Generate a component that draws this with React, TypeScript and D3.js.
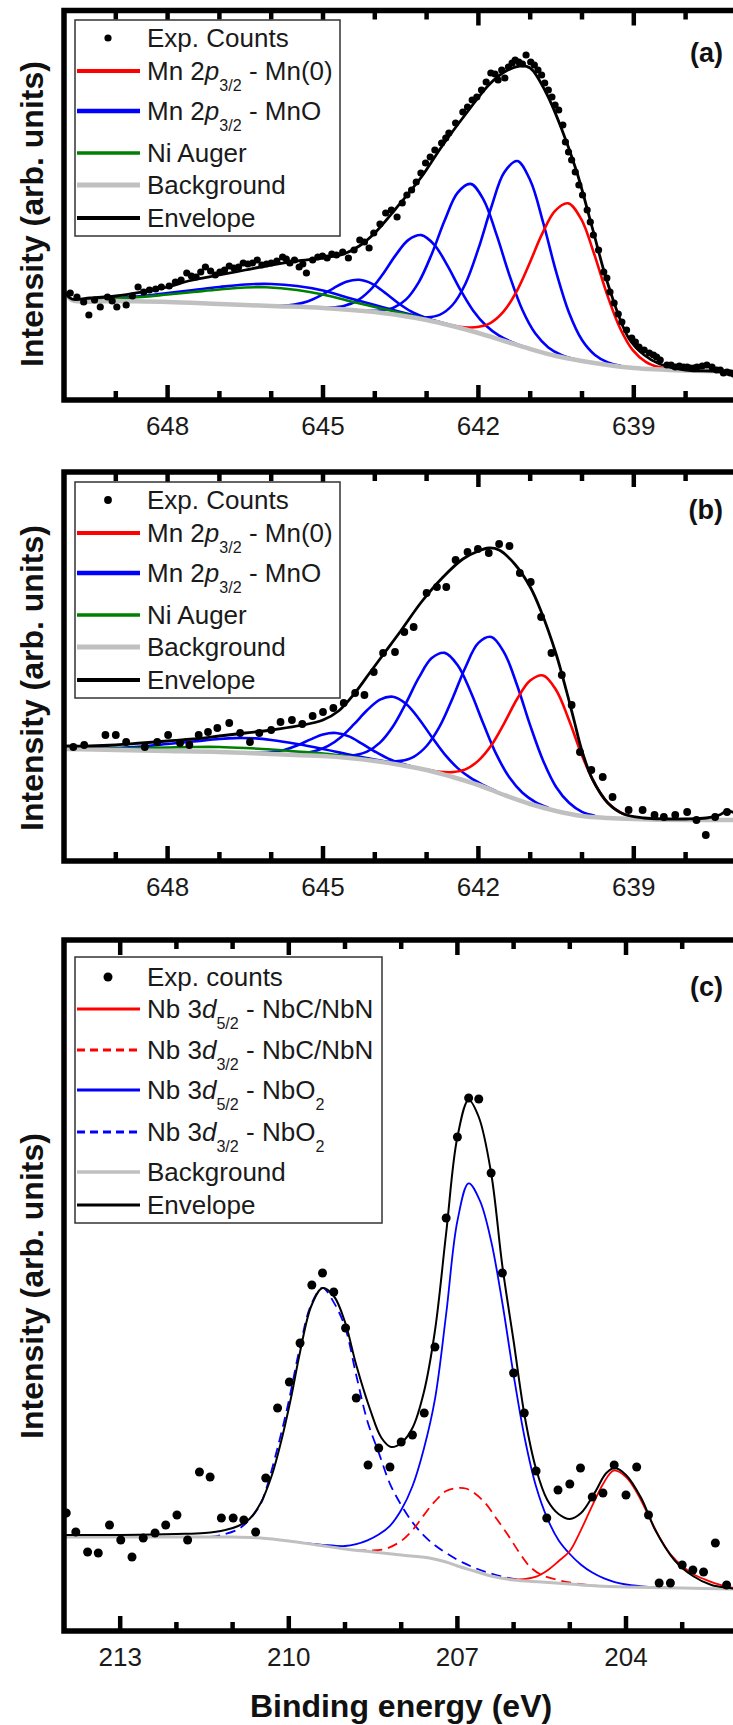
import React, { useRef, useEffect } from 'react';
import * as d3 from 'd3';

type Pt = [number, number];

// ---------- panel (a): Mn 2p3/2 ----------
// [binding energy (eV), intensity (arb. units)]
const countsA: Pt[] = [
  [649.88,107],[649.75,103],[649.62,98],[649.52,85],[649.41,100],[649.30,93],[649.16,103],[649.07,99],[648.98,93],[648.80,95],
  [648.68,104],[648.57,113],[648.46,108],[648.35,110],[648.23,111],[648.12,113],[647.97,114],[647.85,118],[647.74,120],[647.63,127],
  [647.54,124],[647.45,123],[647.36,128],[647.27,133],[647.17,129],[647.08,125],[646.99,128],[646.90,130],[646.81,134],[646.72,132],
  [646.63,133],[646.54,137],[646.45,136],[646.36,137],[646.27,140],[646.18,135],[646.09,136],[646.00,137],[645.89,139],[645.78,143],
  [645.71,141],[645.64,137],[645.55,140],[645.46,133],[645.39,136],[645.32,127],[645.20,140],[645.10,143],[645.01,144],[644.92,142],
  [644.83,146],[644.74,145],[644.62,148],[644.51,142],[644.40,150],[644.29,160],[644.20,158],[644.11,152],[644.02,167],[643.90,176],
  [643.79,187],[643.68,190],[643.57,183],[643.47,197],[643.38,205],[643.29,210],[643.20,218],[643.11,227],[643.02,237],[642.93,243],
  [642.84,250],[642.71,257],[642.63,262],[642.57,267],[642.44,277],[642.30,288],[642.21,293],[642.12,300],[642.03,303],[641.94,310],
  [641.85,318],[641.76,327],[641.68,326],[641.62,320],[641.55,330],[641.49,322],[641.42,333],[641.35,337],[641.29,340],[641.22,338],
  [641.15,336],[641.08,345],[640.99,338],[640.92,335],[640.85,330],[640.78,325],[640.72,317],[640.65,310],[640.58,303],[640.52,295],
  [640.45,290],[640.37,275],[640.32,258],[640.26,248],[640.20,240],[640.13,228],[640.06,215],[639.99,205],[639.90,190],[639.84,178],
  [639.78,165],[639.68,150],[639.58,128],[639.52,122],[639.46,108],[639.38,97],[639.30,86],[639.23,78],[639.14,70],[639.04,62],
  [638.97,58],[638.90,53],[638.80,50],[638.70,47],[638.62,45],[638.56,43],[638.49,40],[638.36,35],[638.28,35],[638.20,33],
  [638.12,34],[638.04,33],[637.97,33],[637.91,32],[637.84,32],[637.78,33],[637.68,34],[637.59,35],[637.49,33],[637.40,30],
  [637.33,30],[637.27,27],[637.20,28],[637.14,27],[637.07,26],
];
const envelopeA: Pt[] = [
  [650.0,109],[649.85,101],[649.5,102],[649.0,104],[648.5,108],[648.0,113],[647.6,119],[647.0,125],[646.5,130],[646.0,135],
  [645.5,139],[645.0,142],[644.6,146],[644.3,154],[644.0,167],[643.6,191],[643.1,223],[642.7,254],[642.2,289],[641.8,315],
  [641.5,328],[641.2,334],[641.0,332],[640.7,308],[640.4,272],[640.1,228],[639.8,172],[639.5,116],[639.1,62],[638.8,45],
  [638.5,36],[638.0,30],[637.5,29],[637.0,28.5],
];
const backgroundA: Pt[] = [
  [650.0,109],[649.85,100],[649.0,99],[648.0,98],[647.0,96],[646.0,94],[645.0,92],[644.0,88],[643.5,84.5],[643.0,80],
  [642.5,74],[642.0,67],[641.5,59],[641.0,51],[640.5,44],[640.0,39],[639.5,35],[639.0,32],[638.0,29.5],[637.0,28.5],
];
// fitted components, as height above the background
const mn0A: Pt[] = [
  [642.52,0.6],[642.27,2.0],[642.02,5.7],[641.77,13.6],[641.52,28.7],[641.27,52.5],[641.02,84.5],[640.77,118.3],[640.52,144.9],
  [640.27,155],[640.02,142.1],[639.77,109.6],[639.52,71],[639.27,38.6],[639.02,17.7],[638.77,6.8],[638.52,2.2],[638.27,0.6],
];
const mnoA: Pt[][] = [
  [[643.25,0.7],[643.0,2.6],[642.75,8.1],[642.5,21],[642.25,45.8],[642.0,84.3],[641.75,130],[641.5,168.7],[641.25,184],
   [641.0,168.7],[640.75,130],[640.5,84.3],[640.25,45.8],[640.0,21],[639.75,8.1],[639.5,2.6],[639.25,0.7]],
  [[644.15,0.6],[643.9,2.1],[643.65,6.5],[643.4,16.8],[643.15,36.6],[642.9,67.3],[642.65,103.9],[642.4,134.8],[642.15,147],
   [641.9,134.8],[641.65,103.9],[641.4,67.3],[641.15,36.6],[640.9,16.8],[640.65,6.5],[640.4,2.1],[640.15,0.6]],
  [[645.1,0.3],[644.85,1.2],[644.6,3.7],[644.35,9.6],[644.1,20.9],[643.85,38.5],[643.6,59.4],[643.35,77],[643.1,84],
   [642.85,77],[642.6,59.4],[642.35,38.5],[642.1,20.9],[641.85,9.6],[641.6,3.7],[641.35,1.2],[641.1,0.3]],
  [[646.05,0.2],[645.8,0.7],[645.55,2.4],[645.3,5.9],[645.05,12.2],[644.8,20.5],[644.55,28],[644.3,31],[644.05,28],
   [643.8,20.5],[643.55,12.2],[643.3,5.9],[643.05,2.4],[642.8,0.7],[642.55,0.2]],
  [[649.85,0.5],[649.5,1.5],[649,3],[648.5,5.5],[648,9],[647.5,13],[647,17],[646.5,20.5],[646,22],[645.5,21],[645,17.5],
   [644.5,12],[644,7],[643.5,3.5],[643,1.5],[642.5,0.5],[642,0]],
];
const niAugerA: Pt[] = [
  [649.85,0.3],[649.5,1],[649,2.5],[648.5,4.5],[648,7.5],[647.5,11],[647,14.5],[646.5,17.5],[646.1,18.5],[645.5,17],
  [645,13.5],[644.5,9],[644,5],[643.5,2.5],[643,1],[642.5,0.3],[642,0],
];

// ---------- panel (b): Mn 2p3/2 ----------
const countsB: Pt[] = [
  [649.82,114],[649.61,116],[649.2,126],[649.0,126],[648.8,119],[648.44,114],[648.2,119],[647.99,126],[647.76,118],[647.58,116],
  [647.4,126],[647.22,129],[647.04,133],[646.81,138],[646.6,128],[646.41,119],[646.23,128],[646.0,131],[645.82,139],[645.6,141],
  [645.4,137],[645.2,145],[645.0,149],[644.8,153],[644.6,158],[644.38,168],[644.2,166],[644.02,189],[643.84,208],[643.61,209],
  [643.43,229],[643.25,234],[643.0,268],[642.8,274],[642.62,274],[642.44,301],[642.21,309],[642.01,312],[641.8,308],[641.6,317],
  [641.4,315],[641.2,288],[640.99,279],[640.79,244],[640.59,208],[640.39,186],[640.2,156],[640.04,109],[639.82,91],[639.6,84],
  [639.41,64],[639.1,51],[638.83,51],[638.6,46],[638.42,44],[638.2,46],[637.97,49],[637.79,41],[637.61,26],[637.43,44],[637.2,49],
];
const envelopeB: Pt[] = [
  [650.0,115],[649.5,115],[649.0,116],[648.5,118],[648.0,120],[647.5,122],[647.0,125],[646.5,128],[646.0,131],[645.5,135],
  [645.0,141],[644.7,150],[644.4,167],[644.1,188],[643.8,209],[643.5,230],[643.1,259],[642.7,283],[642.3,302],[642.0,310],
  [641.8,313],[641.6,311],[641.3,297],[641.0,274],[640.8,251],[640.5,207],[640.3,170],[640.15,140],[640.0,110],[639.8,82],
  [639.5,58],[639.2,47],[638.8,43],[638.4,42],[638.0,42],[637.6,43],[637.35,46],[637.2,50],[637.0,47],
];
const backgroundB: Pt[] = [
  [650.0,112],[649.0,111],[648.0,110],[647.0,109],[646.0,107],[645.0,105],[644.5,103],[644.0,100],[643.5,96],[643.0,91],
  [642.5,84],[642.0,76],[641.5,66],[641.0,57],[640.5,50],[640.0,45],[639.5,43],[639.0,42],[638.0,41],[637.0,41],
];
const mn0B: Pt[] = [
  [643.0,0.5],[642.75,1.7],[642.5,4.9],[642.25,11.6],[642.0,24.4],[641.75,44.7],[641.5,71.9],[641.25,100.7],[641.0,123.4],
  [640.75,132],[640.5,121],[640.25,93.3],[640.0,60.5],[639.75,32.9],[639.5,15],[639.25,5.8],[639.0,1.8],[638.75,0.5],
];
const mnoB: Pt[][] = [
  [[643.75,1.3],[643.5,4.1],[643.25,10.7],[643.0,24],[642.75,46.8],[642.5,78.6],[642.25,113.8],[642.0,142.1],[641.75,153],
   [641.5,142.1],[641.25,113.8],[641.0,78.6],[640.75,46.8],[640.5,24],[640.25,10.7],[640.0,4.1],[639.75,1.3]],
  [[644.65,1.1],[644.4,3.3],[644.15,8.5],[643.9,19.2],[643.65,37.3],[643.4,62.7],[643.15,90.8],[642.9,113.3],[642.65,122],
   [642.4,113.3],[642.15,90.8],[641.9,62.7],[641.65,37.3],[641.4,19.2],[641.15,8.5],[640.9,3.3],[640.65,1.1]],
  [[645.65,0.6],[645.4,1.8],[645.15,4.7],[644.9,10.5],[644.65,20.5],[644.4,34.4],[644.15,49.8],[643.9,62.2],[643.65,67],
   [643.4,62.2],[643.15,49.8],[642.9,34.4],[642.65,20.5],[642.4,10.5],[642.15,4.7],[641.9,1.8],[641.65,0.6]],
  [[646.5,0.1],[646.25,0.6],[646.0,1.8],[645.75,4.6],[645.5,9.5],[645.25,15.9],[645.0,21.6],[644.75,24],[644.5,21.6],
   [644.25,15.9],[644.0,9.5],[643.75,4.6],[643.5,1.8],[643.25,0.6],[643.0,0.1]],
  [[649.85,0.3],[649.5,0.8],[649,2],[648.5,4],[648,7],[647.5,10],[647,13],[646.7,14.5],[646.3,15],[646,14],[645.5,11],
   [645,7],[644.5,3.5],[644,1.5],[643.5,0.5],[643,0]],
];
const niAugerB: Pt[] = [
  [649.85,0.2],[649.5,0.5],[649,1.5],[648.5,2.5],[648,3.5],[647.5,4.5],[647,5],[646.5,5],[646,4.5],[645.5,3.5],
  [645,2.5],[644.5,1.5],[644,0.8],[643.5,0.3],[643,0],
];

// ---------- panel (c): Nb 3d ----------
const countsC: Pt[] = [
  [213.96,118],[213.79,99],[213.58,79],[213.39,78],[213.19,106],[212.99,91],[212.79,74],[212.59,93],[212.38,98],[212.19,106],
  [211.99,116],[211.8,91],[211.59,159],[211.4,154],[211.2,113],[210.99,113],[210.8,111],[210.59,99],[210.41,153],[210.2,223],
  [209.99,249],[209.8,288],[209.59,346],[209.4,358],[209.2,339],[208.99,303],[208.8,233],[208.59,166],[208.4,183],[208.2,164],
  [208.0,189],[207.8,196],[207.59,218],[207.4,284],[207.2,413],[207.0,494],[206.8,533],[206.62,532],[206.4,458],[206.2,358],
  [206.0,258],[205.81,218],[205.6,160],[205.41,113],[205.21,141],[205.0,147],[204.81,163],[204.6,134],[204.41,138],[204.21,166],
  [204.0,136],[203.81,164],[203.6,116],[203.41,48],[203.21,48],[203.0,66],[202.81,61],[202.62,59],[202.41,88],[202.21,46],
];
const envelopeC: Pt[] = [
  [214.0,96],[213.0,96],[212.0,97],[211.5,98],[211.13,101],[210.9,105],[210.7,112],[210.5,128],[210.3,156],[210.13,191],
  [209.95,236],[209.8,279],[209.6,325],[209.4,343],[209.2,335],[209.0,309],[208.8,266],[208.55,221],[208.35,193],[208.18,184],
  [208.0,188],[207.8,203],[207.6,238],[207.4,300],[207.2,398],[207.0,494],[206.8,531],[206.62,514],[206.4,458],[206.2,365],
  [206.0,290],[205.8,214],[205.6,162],[205.4,131],[205.2,117],[205.0,112],[204.8,118],[204.56,138],[204.35,158],[204.2,163],
  [204.0,156],[203.73,133],[203.48,101],[203.14,71],[202.81,55],[202.48,46],[202.15,43],[202.0,42],
];
const backgroundC: Pt[] = [
  [214,94],[212,94],[211,94],[210.5,93],[210,90],[209.5,86],[209,82],[208.5,79],[208,76],[207.5,73],[207.2,69],[207,65],
  [206.7,60],[206.4,55],[206,51],[205.5,49],[205,47],[204.5,45],[204,44],[203,43],[202,42],
];
const nbc52C: Pt[] = [
  [206.2,0],[205.9,1],[205.6,5],[205.4,12],[205.2,22],[205.0,33],[204.8,55],[204.6,80],[204.4,103],[204.22,116],[204.0,110],
  [203.8,94],[203.6,72],[203.4,50],[203.2,33],[203.0,22],[202.8,14],[202.6,9],[202.4,5],[202.2,2],[202.0,1],
];
const nbc32C: Pt[] = [
  [208.8,0],[208.6,1],[208.3,4],[208.0,14],[207.8,26],[207.6,42],[207.4,58],[207.2,71],[207.0,78],[206.85,80],[206.7,78],
  [206.5,71],[206.3,58],[206.1,44],[205.9,28],[205.7,14],[205.5,7],[205.2,3],[204.9,1],[204.5,0],
];
const nbo52C: Pt[] = [
  [209.8,0],[209.4,1],[209.0,3],[208.8,6],[208.6,11],[208.4,18],[208.2,28],[208.0,45],[207.8,70],[207.6,108],[207.4,160],
  [207.2,248],[207.0,345],[206.8,386],[206.6,372],[206.4,335],[206.2,275],[206.0,205],[205.8,142],[205.6,95],[205.4,64],
  [205.2,43],[205.0,30],[204.8,20],[204.6,13],[204.4,8],[204.2,4.5],[204.0,2.5],[203.6,0.5],[203.0,0],
];
const nbo32C: Pt[] = [
  [211.4,0],[211.2,2],[210.9,8],[210.7,18],[210.5,34],[210.4,50],[210.2,92],[210.0,140],[209.8,196],[209.6,240],[209.4,258],
  [209.2,245],[209.0,222],[208.8,175],[208.6,130],[208.4,100],[208.2,70],[208.0,50],[207.8,34],[207.6,22],[207.4,14],
  [207.2,9],[206.9,5],[206.5,2.5],[206.0,1],[205.5,0],
];

const mnMajorTicks = [648, 645, 642, 639];
const nbMajorTicks = [213, 210, 207, 204];

const mnLegend = ['Exp. Counts', 'Mn 2*p*_{3/2} - Mn(0)', 'Mn 2*p*_{3/2} - MnO', 'Ni Auger', 'Background', 'Envelope'];
const nbLegend = ['Exp. counts', 'Nb 3*d*_{5/2} - NbC/NbN', 'Nb 3*d*_{3/2} - NbC/NbN', 'Nb 3*d*_{5/2} - NbO_{2}',
  'Nb 3*d*_{3/2} - NbO_{2}', 'Background', 'Envelope'];

const FONT = '"Liberation Sans", Arial, Helvetica, sans-serif';
const LEFT = 64;
const RED = '#ff0000', BLUE = '#0000ff', GREEN = '#008000', GRAY = '#c0c0c0';

interface Curve { data: Pt[]; color: string; width: number; dash?: string }
interface Key { dot?: boolean; color?: string; width?: number; dash?: string }
interface Panel {
  id: string; top: number; bottom: number; right: number; domain: [number, number]; majors: number[];
  tag: string; tagY: number; labelY: number; background: Pt[]; bgWidth: number; components: Curve[];
  envelope: Pt[]; envWidth: number; counts: Pt[]; r: number;
  legend: { labels: string[]; keys: Key[]; top: number; w: number; h: number; rows: number[] };
}

function richText(sel: any, str: string, size: number) {
  const parts = str.split(/(\*[^*]+\*|_\{[^}]+\})/).filter((s) => s);
  let sub = false;
  parts.forEach((s) => {
    if (s.startsWith('_{')) {
      sel.append('tspan').attr('font-size', size * 0.62).attr('dy', size * 0.42).text(s.slice(2, -1));
      sub = true;
    } else {
      const t = sel.append('tspan').attr('font-size', size);
      if (sub) { t.attr('dy', -size * 0.42); sub = false; }
      if (s.startsWith('*')) t.attr('font-style', 'italic').text(s.slice(1, -1));
      else t.text(s);
    }
  });
}

function drawPanel(svg: any, p: Panel) {
  const x = d3.scaleLinear().domain(p.domain).range([LEFT, p.right]);
  const y = d3.scaleLinear().domain([0, p.bottom - p.top]).range([p.bottom, p.top]);
  const bgAt = d3.scaleLinear().domain(p.background.map((d) => d[0])).range(p.background.map((d) => d[1])).clamp(true);
  const line = d3.line<Pt>().x((d) => x(d[0])).y((d) => y(d[1])).curve(d3.curveCatmullRom.alpha(0.5));

  svg.append('clipPath').attr('id', 'clip-' + p.id).append('rect')
    .attr('x', LEFT).attr('y', p.top).attr('width', p.right - LEFT).attr('height', p.bottom - p.top);
  const plot = svg.append('g').attr('clip-path', `url(#clip-${p.id})`);

  p.components.forEach((c) => {
    plot.append('path')
      .attr('d', line(c.data.map(([e, h]) => [e, bgAt(e) + h] as Pt)))
      .attr('fill', 'none').attr('stroke', c.color).attr('stroke-width', c.width)
      .attr('stroke-dasharray', c.dash || null);
  });
  plot.append('path').attr('d', line(p.background)).attr('fill', 'none')
    .attr('stroke', GRAY).attr('stroke-width', p.bgWidth);
  plot.append('path').attr('d', line(p.envelope)).attr('fill', 'none')
    .attr('stroke', '#000').attr('stroke-width', p.envWidth);
  plot.selectAll('circle').data(p.counts).enter().append('circle')
    .attr('cx', (d: Pt) => x(d[0])).attr('cy', (d: Pt) => y(d[1])).attr('r', p.r).attr('fill', '#000');

  // frame and inward ticks on bottom and top
  svg.append('rect').attr('x', LEFT).attr('y', p.top).attr('width', p.right - LEFT).attr('height', p.bottom - p.top)
    .attr('fill', 'none').attr('stroke', '#000').attr('stroke-width', 5.5);
  const lo = Math.min(...p.domain), hi = Math.max(...p.domain);
  d3.range(Math.ceil(lo) + 1, Math.floor(hi)).forEach((t) => {
    const len = p.majors.includes(t) ? 15 : 9;
    [[p.bottom, p.bottom - len], [p.top, p.top + len]].forEach(([a, b]) => {
      svg.append('line').attr('x1', x(t)).attr('x2', x(t)).attr('y1', a).attr('y2', b)
        .attr('stroke', '#000').attr('stroke-width', 4.5);
    });
  });
  p.majors.forEach((t) => {
    svg.append('text').attr('x', x(t)).attr('y', p.bottom + 35).attr('text-anchor', 'middle')
      .attr('font-family', FONT).attr('font-size', 26).attr('fill', '#1a1a1a').text(t);
  });

  svg.append('text').attr('transform', `translate(32,${p.labelY}) rotate(-90)`)
    .attr('text-anchor', 'middle').attr('dominant-baseline', 'central')
    .attr('font-family', FONT).attr('font-size', 32).attr('font-weight', 'bold').attr('fill', '#111')
    .text('Intensity (arb. units)');
  svg.append('text').attr('x', 723).attr('y', p.tagY).attr('text-anchor', 'end').attr('dominant-baseline', 'central')
    .attr('font-family', FONT).attr('font-size', 27).attr('font-weight', 'bold').attr('fill', '#111').text(p.tag);

  // legend
  const L = p.legend;
  const lg = svg.append('g');
  lg.append('rect').attr('x', 75).attr('y', L.top).attr('width', L.w).attr('height', L.h)
    .attr('fill', '#fff').attr('stroke', '#333').attr('stroke-width', 1.5);
  L.labels.forEach((lab, i) => {
    const ry = L.top + L.rows[i];
    const k = L.keys[i];
    if (k.dot) {
      lg.append('circle').attr('cx', 108).attr('cy', ry).attr('r', p.r).attr('fill', '#000');
    } else {
      lg.append('line').attr('x1', 77).attr('x2', 140).attr('y1', ry).attr('y2', ry)
        .attr('stroke', k.color).attr('stroke-width', k.width).attr('stroke-dasharray', k.dash || null);
    }
    const t = lg.append('text').attr('x', 147).attr('y', ry + 9.3)
      .attr('font-family', FONT).attr('fill', '#1a1a1a');
    richText(t, lab, 26);
  });
}

const mnKeys: Key[] = [
  { dot: true }, { color: RED, width: 4 }, { color: BLUE, width: 4.5 }, { color: GREEN, width: 3.5 },
  { color: GRAY, width: 5 }, { color: '#000', width: 4 },
];
const nbKeys: Key[] = [
  { dot: true }, { color: RED, width: 3 }, { color: RED, width: 3, dash: '8,5' }, { color: BLUE, width: 3 },
  { color: BLUE, width: 3, dash: '8,5' }, { color: GRAY, width: 3.5 }, { color: '#000', width: 3 },
];

const mnRows = [18, 51, 91, 133, 165, 198];
const nbRows = [20, 52, 93, 133, 175, 215, 248];

function mnComponents(mno: Pt[][], ni: Pt[], mn0: Pt[]): Curve[] {
  return [
    ...mno.map((d) => ({ data: d, color: BLUE, width: 2.6 })),
    { data: ni, color: GREEN, width: 2.6 },
    { data: mn0, color: RED, width: 2.6 },
  ];
}

const panels: Panel[] = [
  {
    id: 'a', top: 10.5, bottom: 400, right: LEFT + 13 * 51.8, domain: [650, 637], majors: mnMajorTicks,
    tag: '(a)', tagY: 53, labelY: 214, background: backgroundA, bgWidth: 4.5,
    components: mnComponents(mnoA, niAugerA, mn0A), envelope: envelopeA, envWidth: 2.8, counts: countsA, r: 3.6,
    legend: { labels: mnLegend, keys: mnKeys, top: 20, w: 265, h: 216, rows: mnRows },
  },
  {
    id: 'b', top: 472, bottom: 861, right: LEFT + 13 * 51.8, domain: [650, 637], majors: mnMajorTicks,
    tag: '(b)', tagY: 510, labelY: 678, background: backgroundB, bgWidth: 4.5,
    components: mnComponents(mnoB, niAugerB, mn0B), envelope: envelopeB, envWidth: 2.8, counts: countsB, r: 3.9,
    legend: { labels: mnLegend, keys: mnKeys, top: 482, w: 265, h: 216, rows: mnRows },
  },
  {
    id: 'c', top: 940, bottom: 1631, right: LEFT + 12 * 56.2, domain: [214, 202], majors: nbMajorTicks,
    tag: '(c)', tagY: 987, labelY: 1286, background: backgroundC, bgWidth: 3,
    components: [
      { data: nbo32C, color: BLUE, width: 1.8, dash: '10,6' },
      { data: nbc32C, color: RED, width: 1.8, dash: '10,6' },
      { data: nbo52C, color: BLUE, width: 1.8 },
      { data: nbc52C, color: RED, width: 1.8 },
    ],
    envelope: envelopeC, envWidth: 2, counts: countsC, r: 4.5,
    legend: { labels: nbLegend, keys: nbKeys, top: 957, w: 307, h: 266, rows: nbRows },
  },
];

export default function App() {
  const svgRef = useRef<SVGSVGElement>(null);

  useEffect(() => {
    const svg = d3.select(svgRef.current);
    svg.selectAll('*').remove();
    svg.append('rect').attr('width', 733).attr('height', 1725).attr('fill', '#fff');
    panels.forEach((p) => drawPanel(svg, p));
    svg.append('text').attr('x', 401).attr('y', 1717).attr('text-anchor', 'middle')
      .attr('font-family', FONT).attr('font-size', 32).attr('font-weight', 'bold').attr('fill', '#111')
      .text('Binding energy (eV)');
  }, []);

  return (
    <svg ref={svgRef} width={733} height={1725}
      style={{ position: 'absolute', left: 0, top: 0, display: 'block' }} />
  );
}
